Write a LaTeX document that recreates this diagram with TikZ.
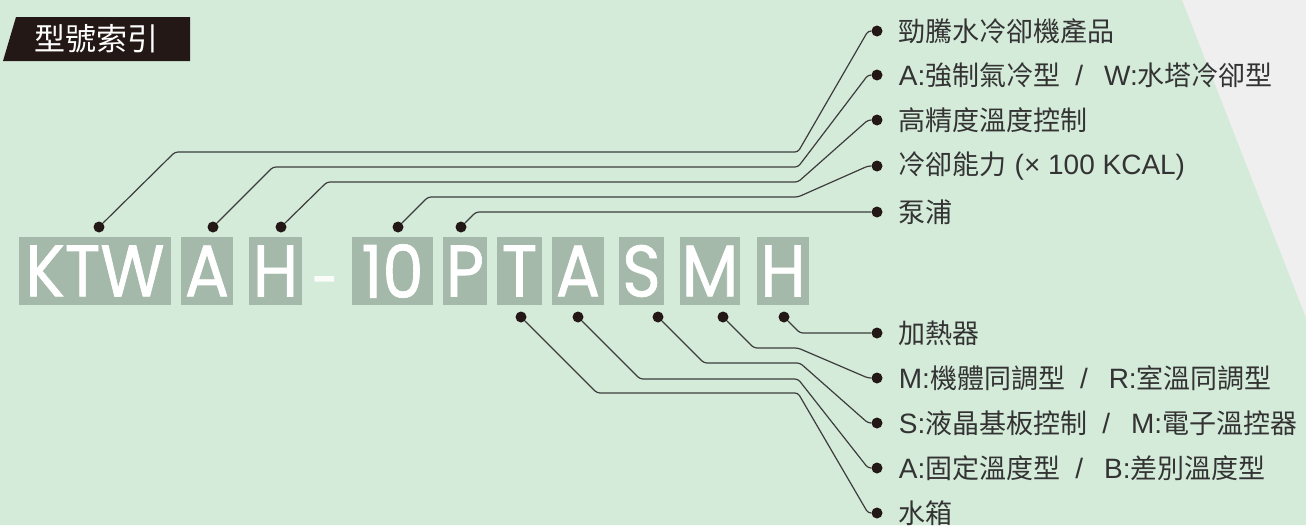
\documentclass[tikz,border=0pt]{standalone}
\usepackage{fontspec}
\setmainfont{Liberation Sans}
\newfontfamily\cjk{Noto Sans CJK TC}
\newfontfamily\codefont[FakeStretch=0.9,FakeBold=0.9]{Poppins}
\newfontfamily\dashfont[FakeBold=5]{Poppins}
\usepackage{xcolor}
\usetikzlibrary{positioning}
\definecolor{bggreen}{RGB}{213,235,218}
\definecolor{bggray}{RGB}{239,239,239}
\definecolor{boxgray}{RGB}{164,185,170}
\definecolor{linegray}{RGB}{60,60,60}
\definecolor{dotblack}{RGB}{35,24,21}
\definecolor{labelgray}{RGB}{51,51,51}
\newcommand\zh[1]{{\cjk\fontsize{27}{30}\selectfont #1}}
\newcommand\alt{\hspace{15pt}/\hspace{21pt}}

\begin{document}
\begin{tikzpicture}[x=1pt,y=-1pt,
        letterbox/.style={fill=boxgray,text=white,inner sep=0pt,minimum height=68pt,
            font=\codefont\fontsize{73}{80}\selectfont},
        leaddot/.style={circle,fill=dotblack,inner sep=0pt,minimum size=11pt},
        lead/.style={draw=linegray,line width=1.2pt,rounded corners=3pt},
        desc/.style={inner sep=0pt,text=labelgray,font=\fontsize{28}{32}\selectfont}]

        % background
        \fill[bggray] (0,0) rectangle (1306,525);
        \fill[bggreen] (0,0) -- (1182,0) -- (1306,318) -- (1306,525) -- (0,525) -- cycle;
        \useasboundingbox (0,0) rectangle (1306,525);

        % title tab
        \fill[dotblack] (16,17) -- (190,17) -- (190,61) -- (3,61) -- cycle;
        \node[text=white,font=\cjk\fontsize{31}{34}\selectfont] (title) at (96,39) {型號索引};

        % model code
        \node[letterbox,minimum width=152pt] (ktw) at (95,271) {KTW};
        \node[letterbox,minimum width=52pt] (air) at (207,271) {A};
        \node[letterbox,minimum width=53pt] (hp) at (275.5,271) {H};
        \node[anchor=base,inner sep=0pt,text=white!85!bggreen,font=\dashfont\fontsize{44}{48}\selectfont] (dash) at (325,295) {-};
        \node[letterbox,minimum width=81pt] (cap) at (392.5,271) {10};
        \node[letterbox,minimum width=44pt] (pump) at (465,271) {P};
        \node[letterbox,minimum width=45pt] (tank) at (519.5,271) {T};
        \node[letterbox,minimum width=52pt] (temp) at (578,271) {A};
        \node[letterbox,minimum width=45pt] (ctrl) at (641.5,271) {S};
        \node[letterbox,minimum width=60pt] (sync) at (710,271) {M};
        \node[letterbox,minimum width=52pt] (heat) at (783,271) {H};

        % dots on the code
        \node[leaddot] (t1) at (99,227) {};
        \node[leaddot] (t2) at (213,227) {};
        \node[leaddot] (t3) at (281,227) {};
        \node[leaddot] (t4) at (398,227) {};
        \node[leaddot] (t5) at (461,227) {};
        \node[leaddot] (b1) at (784,317) {};
        \node[leaddot] (b2) at (723,317) {};
        \node[leaddot] (b3) at (658,317) {};
        \node[leaddot] (b4) at (578,317) {};
        \node[leaddot] (b5) at (521,317) {};

        % dots and texts on the right
        \node[leaddot] (r1) at (877,31) {};
        \node[leaddot] (r2) at (877,75) {};
        \node[leaddot] (r3) at (877,120) {};
        \node[leaddot] (r4) at (877,166) {};
        \node[leaddot] (r5) at (877,212) {};
        \node[leaddot] (r6) at (877,333) {};
        \node[leaddot] (r7) at (877,378) {};
        \node[leaddot] (r8) at (877,423) {};
        \node[leaddot] (r9) at (877,468) {};
        \node[leaddot] (r10) at (877,513) {};

        \node[desc,right=16pt of r1] (l1) {\zh{勁騰水冷卻機產品}};
        \node[desc,right=16pt of r2] (l2) {A:\zh{強制氣冷型}\alt W:\zh{水塔冷卻型}};
        \node[desc,right=16pt of r3] (l3) {\zh{高精度溫度控制}};
        \node[desc,right=16pt of r4] (l4) {\zh{冷卻能力} (× 100 KCAL)};
        \node[desc,right=16pt of r5] (l5) {\zh{泵浦}};
        \node[desc,right=16pt of r6] (l6) {\zh{加熱器}};
        \node[desc,right=16pt of r7] (l7) {M:\zh{機體同調型}\alt R:\zh{室溫同調型}};
        \node[desc,right=16pt of r8] (l8) {S:\zh{液晶基板控制}\alt M:\zh{電子溫控器}};
        \node[desc,right=16pt of r9] (l9) {A:\zh{固定溫度型}\alt B:\zh{差別溫度型}};
        \node[desc,right=16pt of r10] (l10) {\zh{水箱}};

        % leader lines
        \draw[lead] (t1) -- (175,152) -- (798,152) -- (868,31) -- (r1);
        \draw[lead] (t2) -- (273,167) -- (798,167) -- (868,75) -- (r2);
        \draw[lead] (t3) -- (327,182) -- (798,182) -- (868,120) -- (r3);
        \draw[lead] (t4) -- (428,197) -- (798,197) -- (868,166) -- (r4);
        \draw[lead] (t5) -- (476,212) -- (r5);
        \draw[lead] (b1) -- (800,333) -- (r6);
        \draw[lead] (b2) -- (754,348) -- (798,348) -- (868,378) -- (r7);
        \draw[lead] (b3) -- (704,363) -- (800,363) -- (868,423) -- (r8);
        \draw[lead] (b4) -- (640,379) -- (798,379) -- (868,468) -- (r9);
        \draw[lead] (b5) -- (597,393) -- (798,393) -- (868,513) -- (r10);
    \end{tikzpicture}
\end{document}
